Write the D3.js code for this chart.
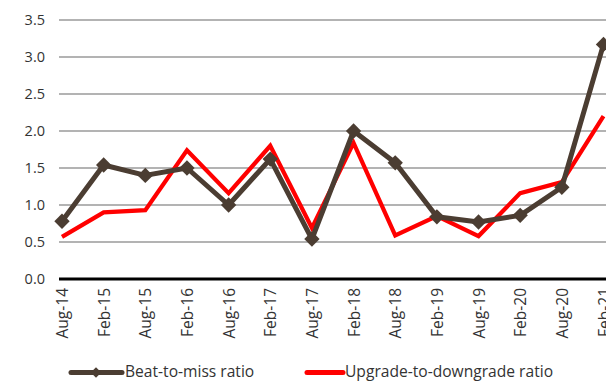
<!DOCTYPE html>
<html>
<head>
<meta charset="utf-8">
<script src="https://cdn.jsdelivr.net/npm/d3@7"></script>
<style>
  html, body { margin: 0; padding: 0; background: #fff; overflow: hidden; }
  svg { display: block; }
  text { font-family: "Open Sans", "Noto Sans", sans-serif; fill: #333; }
</style>
</head>
<body>
<script>
// Half-year periods on the x axis
const periods = ["Aug-14", "Feb-15", "Aug-15", "Feb-16", "Aug-16", "Feb-17", "Aug-17",
                 "Feb-18", "Aug-18", "Feb-19", "Aug-19", "Feb-20", "Aug-20", "Feb-21"];

// Earnings beat-to-miss ratio
const beatToMiss = [0.78, 1.54, 1.40, 1.50, 1.00, 1.62, 0.54, 2.00, 1.57, 0.84, 0.77, 0.86, 1.24, 3.17];

// Analyst upgrade-to-downgrade ratio
const upgradeToDowngrade = [0.57, 0.90, 0.93, 1.74, 1.16, 1.80, 0.69, 1.84, 0.59, 0.85, 0.58, 1.16, 1.31, 2.20];

// Y axis ticks
const yTicks = [0, 0.5, 1.0, 1.5, 2.0, 2.5, 3.0, 3.5];

const W = 606, H = 381;
const svg = d3.select("body").append("svg").attr("width", W).attr("height", H);

const plotLeft = 59, plotRight = 690;
const x = d3.scalePoint().domain(periods).range([62, 603.5]);
const y = d3.scaleLinear().domain([0, 3.5]).range([279, 20]);

// Horizontal gridlines
svg.append("g")
  .selectAll("line")
  .data(yTicks.filter(d => d > 0))
  .join("line")
  .attr("x1", plotLeft).attr("x2", plotRight)
  .attr("y1", d => y(d)).attr("y2", d => y(d))
  .attr("stroke", "#9a9a9a").attr("stroke-width", 1.4);

// Y axis labels
const yAxis = d3.axisLeft(y).tickValues(yTicks).tickFormat(d3.format(".1f")).tickSize(0).tickPadding(0);
const yg = svg.append("g").attr("transform", "translate(45,0)").call(yAxis);
yg.select(".domain").remove();
yg.selectAll("text").style("font-size", "14.5px").attr("fill", "#333")
  .style("font-family", "'Open Sans', 'Noto Sans', sans-serif");

// Baseline at zero
svg.append("line")
  .attr("x1", plotLeft).attr("x2", plotRight)
  .attr("y1", y(0)).attr("y2", y(0))
  .attr("stroke", "#000").attr("stroke-width", 3);

// X axis labels, rotated
const xAxis = d3.axisBottom(x).tickSize(0).tickPadding(0);
const xg = svg.append("g").attr("transform", `translate(0,${y(0)})`).call(xAxis);
xg.select(".domain").remove();
xg.selectAll("text")
  .attr("transform", "rotate(-90)")
  .attr("x", -9).attr("y", 0).attr("dy", "0.36em")
  .style("text-anchor", "end")
  .style("font-size", "15.5px")
  .style("font-family", "'Open Sans', 'Noto Sans', sans-serif")
  .attr("fill", "#333");

const line = d3.line().x((d, i) => x(periods[i])).y(d => y(d));

const brown = "#4b3d32", red = "#ff0000";

// Upgrade-to-downgrade line
svg.append("path").datum(upgradeToDowngrade)
  .attr("d", line).attr("fill", "none")
  .attr("stroke", red).attr("stroke-width", 4.2)
  .attr("stroke-linejoin", "miter");

// Beat-to-miss line
svg.append("path").datum(beatToMiss)
  .attr("d", line).attr("fill", "none")
  .attr("stroke", brown).attr("stroke-width", 5)
  .attr("stroke-linejoin", "round");

// Diamond markers
const diamond = d3.symbol().type(d3.symbolDiamond2).size(150);
svg.append("g").selectAll("path")
  .data(beatToMiss)
  .join("path")
  .attr("d", diamond)
  .attr("transform", (d, i) => `translate(${x(periods[i])},${y(d)})`)
  .attr("fill", brown);

// Legend
const legendY = 371.5;
const lg = svg.append("g");
lg.append("line").attr("x1", 71).attr("x2", 122).attr("y1", legendY + 1).attr("y2", legendY + 1)
  .attr("stroke", brown).attr("stroke-width", 5).attr("stroke-linecap", "round");
lg.append("path").attr("d", d3.symbol().type(d3.symbolDiamond2).size(70))
  .attr("transform", `translate(96,${legendY + 1})`).attr("fill", brown);
lg.append("text").attr("x", 125).attr("y", legendY).attr("dy", "0.35em")
  .style("font-size", "15.6px").text("Beat-to-miss ratio");

lg.append("line").attr("x1", 307).attr("x2", 343).attr("y1", legendY + 1).attr("y2", legendY + 1)
  .attr("stroke", red).attr("stroke-width", 5).attr("stroke-linecap", "round");
lg.append("text").attr("x", 345).attr("y", legendY).attr("dy", "0.35em")
  .style("font-size", "15.6px").text("Upgrade-to-downgrade ratio");
</script>
</body>
</html>
